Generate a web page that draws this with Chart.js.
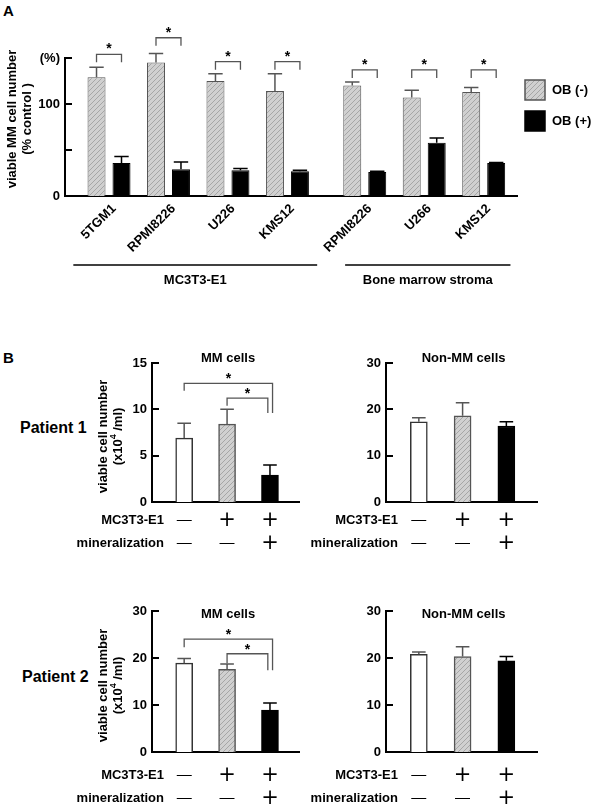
<!DOCTYPE html>
<html>
<head>
<meta charset="utf-8">
<script src="https://cdn.jsdelivr.net/npm/chart.js@4.4.1/dist/chart.umd.min.js"></script>
<style>
  body { margin: 0; background: #fff; width: 595px; height: 809px; position: relative; overflow: hidden;
         font-family: "Liberation Sans", Arial, sans-serif; }
  canvas { position: absolute; }
  .lbl { position: absolute; font-weight: bold; color: #000; white-space: nowrap; line-height: 1.15; }
</style>
</head>
<body>
<div class="lbl" style="left:3px;top:2px;font-size:15px">A</div>
<div class="lbl" style="left:3px;top:349px;font-size:15px">B</div>
<div class="lbl" style="left:20px;top:419px;font-size:16px">Patient 1</div>
<div class="lbl" style="left:22px;top:668px;font-size:16px">Patient 2</div>

<canvas id="chartA" width="595" height="290" style="left:0;top:0"></canvas>
<canvas id="p1mm" width="300" height="220" style="left:0;top:340px"></canvas>
<canvas id="p1non" width="295" height="220" style="left:300px;top:340px"></canvas>
<canvas id="p2mm" width="300" height="219" style="left:0;top:590px"></canvas>
<canvas id="p2non" width="295" height="219" style="left:300px;top:590px"></canvas>

<script>
// ---- panel A data ----
const cellLinesA = ['5TGM1', 'RPMI8226', 'U226', 'KMS12', 'RPMI8226', 'U266', 'KMS12'];
const positionsA = [1, 2, 3, 4, 5.3, 6.3, 7.3];
const obMinus = [129, 145, 125, 114, 120, 107, 113];
const obMinusErr = [11, 10, 8, 19, 4, 8, 5];
const obPlus = [36, 29, 28, 27, 26, 58, 36];
const obPlusErr = [7, 8, 2, 1, 1, 5, 0.5];
const bracketA = [154, 172, 146, 146, 137, 137, 137];
const ticksA = [0, 50, 100, 150];
const tickLabelsA = ['0', '', '100', '(%)'];
const groupNamesA = ['MC3T3-E1', 'Bone marrow stroma'];
const groupSpansA = [[0.4, 4.5], [4.97, 7.75]];

// ---- panel B data ----
const positionsB = [1, 2, 3];
const rowMC3T3 = ['—', '+', '+'];
const rowMineral = ['—', '—', '+'];
const p1MM = [6.9, 8.4, 2.9];
const p1MMErr = [1.6, 1.6, 1.1];
const p1Non = [17.3, 18.6, 16.4];
const p1NonErr = [0.9, 2.8, 0.9];
const p2MM = [18.9, 17.6, 8.9];
const p2MMErr = [1.0, 1.1, 1.5];
const p2Non = [20.8, 20.3, 19.4];
const p2NonErr = [0.5, 2.1, 0.9];
const ticks15 = [0, 5, 10, 15];
const ticks30 = [0, 10, 20, 30];
// x1, x2, bracket level, left leg end, right leg end
const bracketsP1 = [[1, 3.06, 12.8, 12.0, 9.6], [2, 2.95, 11.2, 10.4, 9.6]];
const bracketsP2 = [[1, 3.06, 24.0, 22.3, 17.4], [2, 2.95, 20.9, 18.9, 17.4]];

const FONT = '"Liberation Sans", Arial, sans-serif';
Chart.defaults.font.family = FONT;
Chart.defaults.font.weight = 'bold';
Chart.defaults.color = '#000';

function makeHatch() {
  const c = document.createElement('canvas');
  c.width = c.height = 5;
  const g = c.getContext('2d');
  g.fillStyle = '#d0d0d0';
  g.fillRect(0, 0, 5, 5);
  g.strokeStyle = '#9a9a9a';
  g.lineWidth = 0.8;
  g.beginPath();
  g.moveTo(0, 5); g.lineTo(5, 0);
  g.moveTo(-1, 1); g.lineTo(1, -1);
  g.moveTo(4, 6); g.lineTo(6, 4);
  g.stroke();
  return g.createPattern(c, 'repeat');
}
const hatch = makeHatch();

function pick(v, i) { return Array.isArray(v) ? v[i] : v; }

function star(ctx, x, y) {
  ctx.font = 'bold 14px ' + FONT;
  ctx.fillStyle = '#000';
  ctx.textAlign = 'center';
  ctx.textBaseline = 'alphabetic';
  ctx.fillText('*', x, y + 8);
}

function yTitle(ctx, x, y, lines) {
  // each line: array of [text, isSup]
  lines.forEach((parts, li) => {
    ctx.save();
    ctx.translate(x[li], y);
    ctx.rotate(-Math.PI / 2);
    ctx.textBaseline = 'middle';
    ctx.textAlign = 'left';
    let w = 0;
    parts.forEach(p => { ctx.font = (p[1] ? 'bold 9px ' : 'bold 13px ') + FONT; w += ctx.measureText(p[0]).width; });
    let cx = -w / 2;
    parts.forEach(p => {
      ctx.font = (p[1] ? 'bold 9px ' : 'bold 13px ') + FONT;
      ctx.fillText(p[0], cx, p[1] ? -4 : 0);
      cx += ctx.measureText(p[0]).width;
    });
    ctx.restore();
  });
}

// draws inner tick marks, error bars, brackets and annotation text
const marks = {
  id: 'marks',
  afterDatasetsDraw(chart, args, o) {
    const ctx = chart.ctx, ca = chart.chartArea, ys = chart.scales.y, xs = chart.scales.x;
    ctx.save();
    ctx.strokeStyle = '#000';
    ctx.lineWidth = 2;
    ys.ticks.forEach(t => {
      const y = Math.round(ys.getPixelForValue(t.value));
      ctx.beginPath(); ctx.moveTo(ca.left, y); ctx.lineTo(ca.left + 7, y); ctx.stroke();
    });

    chart.data.datasets.forEach((ds, di) => {
      chart.getDatasetMeta(di).data.forEach((bar, i) => {
        const top = ys.getPixelForValue(ds.data[i].y + ds.errors[i]);
        const h = bar.width * 0.4;
        ctx.strokeStyle = pick(ds.errColor, i);
        ctx.lineWidth = 1.5;
        ctx.beginPath();
        ctx.moveTo(bar.x, bar.y); ctx.lineTo(bar.x, top);
        ctx.moveTo(bar.x - h, top); ctx.lineTo(bar.x + h, top);
        ctx.stroke();
      });
    });

    ctx.strokeStyle = '#555';
    ctx.lineWidth = 1.3;
    if (o.pairBrackets) {
      const m0 = chart.getDatasetMeta(0).data, m1 = chart.getDatasetMeta(1).data;
      o.pairBrackets.forEach((v, i) => {
        const x1 = m0[i].x, x2 = m1[i].x, y = ys.getPixelForValue(v);
        ctx.beginPath();
        ctx.moveTo(x1, y + 8); ctx.lineTo(x1, y); ctx.lineTo(x2, y); ctx.lineTo(x2, y + 8);
        ctx.stroke();
        star(ctx, (x1 + x2) / 2, y - 9);
      });
    }
    if (o.brackets) {
      o.brackets.forEach(b => {
        const x1 = xs.getPixelForValue(b[0]), x2 = xs.getPixelForValue(b[1]);
        const y = ys.getPixelForValue(b[2]);
        ctx.strokeStyle = '#555';
        ctx.lineWidth = 1.3;
        ctx.beginPath();
        ctx.moveTo(x1, ys.getPixelForValue(b[3])); ctx.lineTo(x1, y);
        ctx.lineTo(x2, y); ctx.lineTo(x2, ys.getPixelForValue(b[4]));
        ctx.stroke();
        star(ctx, (x1 + x2) / 2, y - 8);
      });
    }

    if (o.legend) {
      chart.data.datasets.forEach((ds, di) => {
        const bx = ca.right + 8, by = o.legend[di];
        ctx.fillStyle = ds.backgroundColor;
        ctx.fillRect(bx, by, 20, 20);
        ctx.strokeStyle = ds.borderColor;
        ctx.lineWidth = 1.5;
        ctx.strokeRect(bx, by, 20, 20);
        ctx.fillStyle = '#000';
        ctx.font = 'bold 13px ' + FONT;
        ctx.textAlign = 'left';
        ctx.textBaseline = 'middle';
        ctx.fillText(ds.label, bx + 27, by + 10);
      });
    }

    if (o.groups) {
      ctx.strokeStyle = '#000';
      ctx.lineWidth = 1.5;
      ctx.fillStyle = '#000';
      ctx.font = 'bold 13px ' + FONT;
      ctx.textAlign = 'center';
      ctx.textBaseline = 'middle';
      o.groups.forEach((g, i) => {
        const x1 = xs.getPixelForValue(g[0]), x2 = xs.getPixelForValue(g[1]);
        ctx.beginPath(); ctx.moveTo(x1, o.groupY); ctx.lineTo(x2, o.groupY); ctx.stroke();
        ctx.fillText(o.groupNames[i], (x1 + x2) / 2, o.groupY + 15);
      });
    }

    if (o.title) {
      const bars = chart.getDatasetMeta(0).data;
      ctx.fillStyle = '#000';
      ctx.font = 'bold 13px ' + FONT;
      ctx.textAlign = 'center';
      ctx.textBaseline = 'middle';
      ctx.fillText(o.title, bars[1].x + 1, ca.top + o.titleDy);
    }

    if (o.rows) {
      const bars = chart.getDatasetMeta(0).data;
      o.rows.forEach((r, ri) => {
        const y = ca.bottom + o.rowDy[ri];
        ctx.fillStyle = '#000';
        ctx.font = 'bold 13px ' + FONT;
        ctx.textAlign = 'right';
        ctx.textBaseline = 'middle';
        ctx.fillText(r.name, ca.left + 12, y);
        ctx.textAlign = 'center';
        r.marks.forEach((s, i) => {
          ctx.font = s === '+' ? '21px "DejaVu Sans"' : '15px ' + FONT;
          ctx.fillText(s, bars[i].x, s === '+' ? y + 1 : y);
        });
      });
    }

    if (o.yTitle) yTitle(ctx, o.yTitle.x, ca.top + (ca.bottom - ca.top) / 2 + o.yTitle.dy, o.yTitle.lines);
    ctx.restore();
  }
};

// ---- panel A ----
new Chart(document.getElementById('chartA'), {
  type: 'bar',
  data: {
    datasets: [
      { label: 'OB (-)', data: positionsA.map((x, i) => ({ x, y: obMinus[i] })), errors: obMinusErr,
        backgroundColor: hatch, borderColor: '#555', borderWidth: 1, errColor: '#555',
        categoryPercentage: 0.84, barPercentage: 0.72 },
      { label: 'OB (+)', data: positionsA.map((x, i) => ({ x, y: obPlus[i] })), errors: obPlusErr,
        backgroundColor: '#000', borderColor: '#000', borderWidth: 1, errColor: '#000',
        categoryPercentage: 0.84, barPercentage: 0.72 }
    ]
  },
  options: {
    responsive: false, animation: false,
    layout: { padding: { left: 0, top: 58, right: 78, bottom: 0 } },
    scales: {
      x: {
        type: 'linear', min: 0.26, max: 7.86, offset: false,
        afterBuildTicks: s => { s.ticks = positionsA.map(v => ({ value: v })); },
        afterFit: s => { s.height = 94; },
        grid: { display: false, drawTicks: false, offset: false },
        border: { color: '#000', width: 2 },
        ticks: { callback: (v, i) => cellLinesA[i], minRotation: 45, maxRotation: 45, autoSkip: false,
                 padding: 5, labelOffset: 5, font: { size: 13, weight: 'bold' } }
      },
      y: {
        min: 0, max: 150,
        afterBuildTicks: s => { s.ticks = ticksA.map(v => ({ value: v })); },
        afterFit: s => { s.width = 65; },
        grid: { display: false, drawTicks: false },
        border: { color: '#000', width: 2 },
        ticks: { callback: (v, i) => tickLabelsA[i], padding: 5, font: { size: 13, weight: 'bold' } }
      }
    },
    plugins: {
      legend: { display: false }, tooltip: { enabled: false },
      marks: {
        pairBrackets: bracketA,
        legend: [80, 111],
        groups: groupSpansA, groupNames: groupNamesA, groupY: 265,
        yTitle: { x: [12, 27], dy: -8, lines: [[['viable MM cell number']], [['(% control )']]] }
      }
    }
  },
  plugins: [marks]
});

// ---- panel B ----
function panelB(id, vals, errs, ticks, title, titleDy, rowDy, brackets, box, withTitle) {
  return new Chart(document.getElementById(id), {
    type: 'bar',
    data: {
      datasets: [{
        data: positionsB.map((x, i) => ({ x, y: vals[i] })), errors: errs,
        backgroundColor: ['#fff', hatch, '#000'], borderColor: ['#333', '#555', '#000'],
        borderWidth: 1.5, barThickness: 17, errColor: ['#555', '#555', '#000']
      }]
    },
    options: {
      responsive: false, animation: false,
      layout: { padding: { left: 0, top: box.top, right: box.right, bottom: 0 } },
      scales: {
        x: {
          type: 'linear', min: 0.25, max: 3.7, offset: false,
          afterBuildTicks: s => { s.ticks = positionsB.map(v => ({ value: v })); },
          afterFit: s => { s.height = box.xh; },
          grid: { display: false, drawTicks: false, offset: false },
          border: { color: '#000', width: 2 },
          ticks: { display: false }
        },
        y: {
          min: 0, max: ticks[ticks.length - 1],
          afterBuildTicks: s => { s.ticks = ticks.map(v => ({ value: v })); },
          afterFit: s => { s.width = box.yw; },
          grid: { display: false, drawTicks: false },
          border: { color: '#000', width: 2 },
          ticks: { padding: 5, font: { size: 13, weight: 'bold' } }
        }
      },
      plugins: {
        legend: { display: false }, tooltip: { enabled: false },
        marks: {
          title, titleDy, rowDy,
          brackets,
          rows: [{ name: 'MC3T3-E1', marks: rowMC3T3 }, { name: 'mineralization', marks: rowMineral }],
          yTitle: withTitle ? { x: [103, 118], dy: 4,
            lines: [[['viable cell number']], [['(x10'], ['4', true], [' /ml)']]] } : null
        }
      }
    },
    plugins: [marks]
  });
}

panelB('p1mm', p1MM, p1MMErr, ticks15, 'MM cells', -5, [18, 41], bracketsP1, { top: 23, right: 0, xh: 58, yw: 152 }, true);
panelB('p1non', p1Non, p1NonErr, ticks30, 'Non-MM cells', -5, [18, 41], null, { top: 23, right: 58, xh: 58, yw: 86 }, false);
panelB('p2mm', p2MM, p2MMErr, ticks30, 'MM cells', 3, [23, 46], bracketsP2, { top: 21, right: 0, xh: 57, yw: 152 }, true);
panelB('p2non', p2Non, p2NonErr, ticks30, 'Non-MM cells', 3, [23, 46], null, { top: 21, right: 58, xh: 57, yw: 86 }, false);
</script>
</body>
</html>
